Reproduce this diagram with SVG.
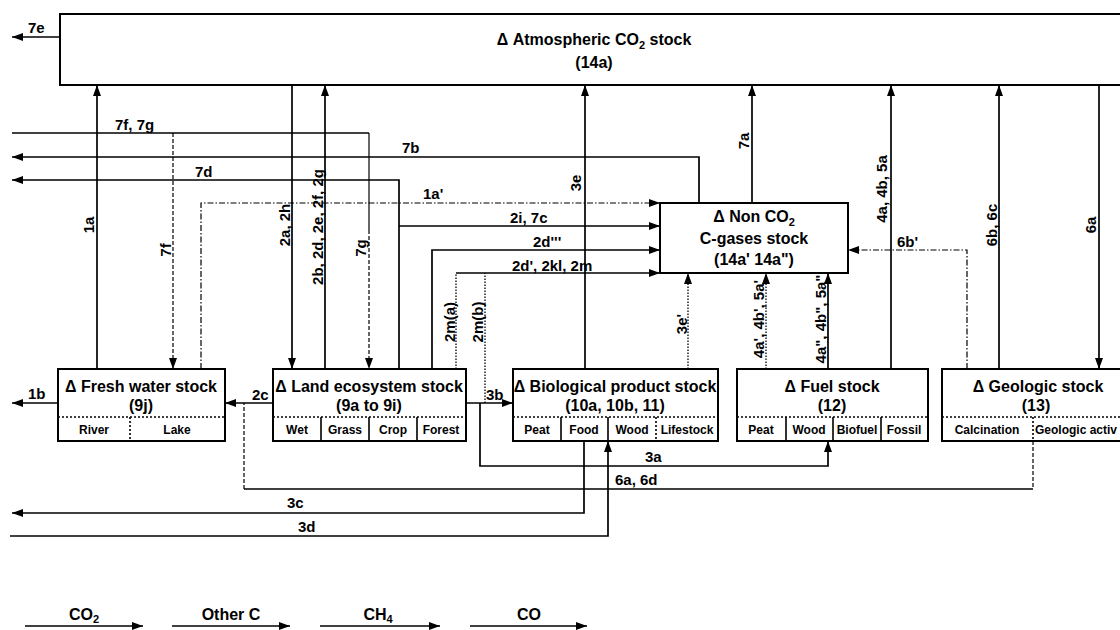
<svg xmlns="http://www.w3.org/2000/svg" width="1120" height="630" viewBox="0 0 1120 630">
<defs>
<marker id="ah" markerWidth="11" markerHeight="8" refX="11" refY="4" orient="auto" markerUnits="userSpaceOnUse"><path d="M0,0 L11,4 L0,8 z" fill="#000"/></marker>
<style>
text{font-family:"Liberation Sans",Arial,sans-serif;font-weight:bold;fill:#000}
.t{font-size:16px;text-anchor:middle}
.c{font-size:12px;text-anchor:middle}
.l{font-size:15px}
.r{font-size:15px;text-anchor:middle}
.box{fill:#fff;stroke:#000;stroke-width:2}
.sep{stroke:#000;stroke-width:1.6;stroke-dasharray:2 2;fill:none}
.div{stroke:#000;stroke-width:1.6;fill:none}
.s{stroke:#000;stroke-width:1.7;fill:none}
.th{stroke:#000;stroke-width:1.2;fill:none}
.da{stroke:#000;stroke-width:1.2;fill:none;stroke-dasharray:4 2}
.dd{stroke:#000;stroke-width:1.2;fill:none;stroke-dasharray:6 2 1.5 2}
.dt{stroke:#000;stroke-width:1.3;fill:none;stroke-dasharray:1.5 1.5}
.a{marker-end:url(#ah)}
</style>
</defs>
<rect width="1120" height="630" fill="#fff"/>

<g id="connectors">
<path class="s a" d="M60,37 H12"/>
<path class="s a" d="M97,369 V85"/>
<path class="s a" d="M292,85 V369"/>
<path class="s a" d="M325,369 V85"/>
<path class="s a" d="M585,369 V85"/>
<path class="s a" d="M752,203 V85"/>
<path class="s a" d="M891,369 V85"/>
<path class="s a" d="M999,369 V85"/>
<path class="s a" d="M1099,85 V369"/>
<path class="s" d="M12,133 H369"/>
<path class="da a" d="M173,133 V369"/>
<path class="th" d="M369,133 V230"/>
<path class="da a" d="M369,230 V369"/>
<path class="s a" d="M699,203 V157 H12"/>
<path class="s a" d="M399,369 V180 H12"/>
<path class="s a" d="M399,226 H660"/>
<path class="dd a" d="M201,369 V203 H660"/>
<path class="s a" d="M432,369 V250 H660"/>
<path class="dt" d="M456,369 V273"/>
<path class="s a" d="M456,273 H660"/>
<path class="dt" d="M485,403 V273"/>
<path class="s a" d="M466,403 H513"/>
<path class="s a" d="M480,403 V466 H828 V441"/>
<path class="s a" d="M273,403 H225"/>
<path class="da" d="M1033,441 V489"/>
<path class="s" d="M1033,489 H244"/>
<path class="da" d="M244,489 V403"/>
<path class="s a" d="M58,403 H12"/>
<path class="s a" d="M584,441 V513 H12"/>
<path class="s a" d="M10,536 H608 V441"/>
<path class="dt a" d="M688,369 V273"/>
<path class="dt a" d="M766,369 V273"/>
<path class="s a" d="M828,369 V273"/>
<path class="dd a" d="M967,369 V250 H848"/>
</g>

<g id="connector-labels">
<text class="l" x="28" y="33">7e</text>
<text class="l" x="115" y="130">7f, 7g</text>
<text class="l" x="402" y="153">7b</text>
<text class="l" x="195" y="177">7d</text>
<text class="l" x="423" y="199">1a'</text>
<text class="l" x="510" y="223">2i, 7c</text>
<text class="l" x="533" y="247">2d'''</text>
<text class="l" x="512" y="271">2d', 2kl, 2m</text>
<text class="l" x="897" y="247">6b'</text>
<text class="l" x="486" y="400">3b</text>
<text class="l" x="252" y="400">2c</text>
<text class="l" x="28" y="399">1b</text>
<text class="l" x="645" y="462">3a</text>
<text class="l" x="615" y="485">6a, 6d</text>
<text class="l" x="287" y="508">3c</text>
<text class="l" x="298" y="532">3d</text>
<text class="r" transform="translate(94,225) rotate(-90)">1a</text>
<text class="r" transform="translate(171,250) rotate(-90)">7f</text>
<text class="r" transform="translate(290,225) rotate(-90)">2a, 2h</text>
<text class="r" transform="translate(323,227) rotate(-90)">2b, 2d, 2e, 2f, 2g</text>
<text class="r" transform="translate(366,248) rotate(-90)">7g</text>
<text class="r" transform="translate(581,183) rotate(-90)">3e</text>
<text class="r" transform="translate(749,141) rotate(-90)">7a</text>
<text class="r" transform="translate(887,189) rotate(-90)">4a, 4b, 5a</text>
<text class="r" transform="translate(997,225) rotate(-90)">6b, 6c</text>
<text class="r" transform="translate(1096,225) rotate(-90)">6a</text>
<text class="r" transform="translate(455,322) rotate(-90)">2m(a)</text>
<text class="r" transform="translate(483,322) rotate(-90)">2m(b)</text>
<text class="r" transform="translate(687,324) rotate(-90)">3e'</text>
<text class="r" transform="translate(764,319) rotate(-90)">4a', 4b', 5a'</text>
<text class="r" transform="translate(826,319) rotate(-90)">4a", 4b", 5a"</text>
</g>

<g id="atmospheric">
<rect class="box" x="60" y="14" width="1080" height="71"/>
<text class="t" x="594" y="45">Δ Atmospheric CO<tspan font-size="11" dy="4">2</tspan><tspan dy="-4"> stock</tspan></text>
<text class="t" x="594" y="68">(14a)</text>
</g>

<g id="nonco2">
<rect class="box" x="660" y="203" width="188" height="70"/>
<text class="t" x="754" y="222">Δ Non CO<tspan font-size="11" dy="4">2</tspan></text>
<text class="t" x="754" y="244">C-gases stock</text>
<text class="t" x="754" y="265">(14a' 14a")</text>
</g>

<g id="freshwater">
<rect class="box" x="58" y="369" width="167" height="72"/>
<text class="t" x="141" y="392">Δ Fresh water stock</text>
<text class="t" x="141" y="411">(9j)</text>
<path class="sep" d="M58,417 H225"/>
<path class="sep" d="M130,417 V441"/>
<text class="c" x="94" y="434">River</text>
<text class="c" x="177" y="434">Lake</text>
</g>

<g id="land">
<rect class="box" x="273" y="369" width="193" height="72"/>
<text class="t" x="369" y="392">Δ Land ecosystem stock</text>
<text class="t" x="369" y="411">(9a to 9i)</text>
<path class="sep" d="M273,417 H466"/>
<path class="div" d="M321,417 V441 M369,417 V441 M417,417 V441"/>
<text class="c" x="297" y="434">Wet</text>
<text class="c" x="345" y="434">Grass</text>
<text class="c" x="393" y="434">Crop</text>
<text class="c" x="441" y="434">Forest</text>
</g>

<g id="biological">
<rect class="box" x="513" y="369" width="205" height="72"/>
<text class="t" x="615" y="392">Δ Biological product stock</text>
<text class="t" x="615" y="411">(10a, 10b, 11)</text>
<path class="sep" d="M513,417 H718 M656,417 V441"/>
<path class="div" d="M561,417 V441 M608,417 V441"/>
<text class="c" x="537" y="434">Peat</text>
<text class="c" x="584" y="434">Food</text>
<text class="c" x="632" y="434">Wood</text>
<text class="c" x="687" y="434">Lifestock</text>
</g>

<g id="fuel">
<rect class="box" x="737" y="369" width="191" height="72"/>
<text class="t" x="832" y="392">Δ Fuel stock</text>
<text class="t" x="832" y="411">(12)</text>
<path class="sep" d="M737,417 H928"/>
<path class="div" d="M786,417 V441 M833,417 V441 M881,417 V441"/>
<text class="c" x="761" y="434">Peat</text>
<text class="c" x="809" y="434">Wood</text>
<text class="c" x="857" y="434">Biofuel</text>
<text class="c" x="904" y="434">Fossil</text>
</g>

<g id="geologic">
<rect class="box" x="942" y="369" width="200" height="72"/>
<text class="t" x="1038" y="392">Δ Geologic stock</text>
<text class="t" x="1036" y="411">(13)</text>
<path class="sep" d="M942,417 H1120 M1033,417 V441"/>
<text class="c" x="987" y="434">Calcination</text>
<text class="c" x="1035" y="434" style="text-anchor:start">Geologic activ</text>
</g>

<g id="legend">
<path class="s a" d="M25,626 H143"/>
<text class="t" x="84" y="620">CO<tspan font-size="11" dy="3">2</tspan></text>
<path class="s a" d="M172,626 H290"/>
<text class="t" x="231" y="620">Other C</text>
<path class="s a" d="M320,626 H440"/>
<text class="t" x="378" y="620">CH<tspan font-size="11" dy="3">4</tspan></text>
<path class="s a" d="M470,626 H587"/>
<text class="t" x="529" y="620">CO</text>
</g>
</svg>
